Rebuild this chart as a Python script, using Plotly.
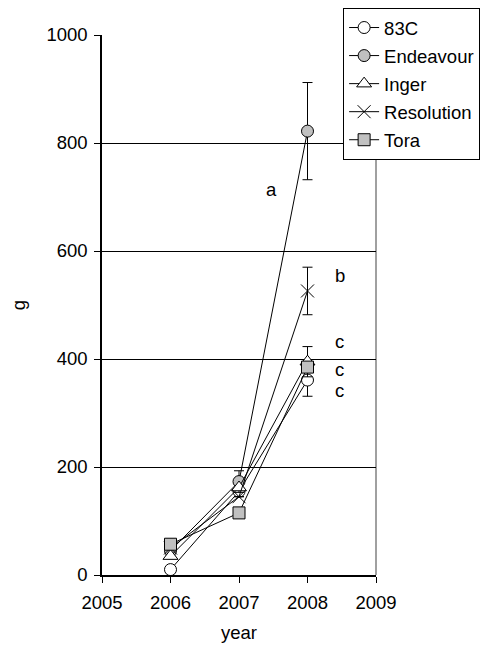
import plotly.graph_objects as go

years = [2006, 2007, 2008]
series_names = ["83C", "Endeavour", "Inger", "Resolution", "Tora"]
v_83c = [10, 155, 361]
v_endeavour = [45, 173, 822]
v_inger = [35, 162, 395]
v_resolution = [50, 145, 526]
v_tora = [57, 115, 385]
err_83c = [0, 0, 30]
err_endeavour = [0, 20, 90]
err_inger = [0, 0, 28]
err_resolution = [0, 0, 44]
err_tora = [0, 0, 0]
letters = ["a", "b", "c", "c", "c"]
letter_x = [2007.47, 2008.47, 2008.47, 2008.47, 2008.47]
letter_y = [713, 554, 433, 380, 341]
x_ticks = [2005, 2006, 2007, 2008, 2009]
y_ticks = [0, 200, 400, 600, 800, 1000]

FONT = "Liberation Sans, Arial, sans-serif"
FS = 18.5
values = [v_83c, v_endeavour, v_inger, v_resolution, v_tora]
errs = [err_83c, err_endeavour, err_inger, err_resolution, err_tora]
styles = [
    dict(symbol="circle", color="white", size=12),
    dict(symbol="circle", color="#c0c0c0", size=12),
    dict(symbol="triangle-up", color="white", size=13),
    dict(symbol="x-thin-open", color="black", size=13),
    dict(symbol="square", color="#c0c0c0", size=12),
]

fig = go.Figure()
for name, vals, er, st in zip(series_names, values, errs, styles):
    fig.add_trace(go.Scatter(
        x=years, y=vals, name=name, mode="lines+markers", legendgroup=name,
        line=dict(color="black", width=1),
        marker=dict(symbol=st["symbol"], size=st["size"], color=st["color"],
                    line=dict(color="black", width=1)),
        error_y=dict(type="data", array=er, visible=True, color="black",
                     thickness=1, width=5),
    ))

for t, lx, ly in zip(letters, letter_x, letter_y):
    fig.add_annotation(x=lx, y=ly, text=t, showarrow=False,
                       font=dict(family=FONT, size=FS, color="black"))

fig.add_shape(type="line", xref="paper", yref="paper", x0=1, x1=1, y0=0, y1=1,
              line=dict(color="#808080", width=1.5), layer="below")

fig.update_layout(
    width=483, height=641,
    margin=dict(l=94, r=115, t=27, b=74, autoexpand=False),
    paper_bgcolor="white", plot_bgcolor="white",
    font=dict(family=FONT, size=FS, color="black"),
    showlegend=True,
    legend=dict(x=0.88, y=1.05, xanchor="left", yanchor="top",
                bordercolor="black", borderwidth=1, bgcolor="white",
                font=dict(family=FONT, size=FS), tracegroupgap=1,
                itemwidth=30),
    xaxis=dict(range=[2005, 2009], tickvals=x_ticks, ticks="outside",
               ticklen=6, tickcolor="black", showline=True, linecolor="black",
               linewidth=1.5, showgrid=False, zeroline=False, automargin=False,
               ticklabelstandoff=4,
               title=dict(text="year", standoff=14, font=dict(size=FS))),
    yaxis=dict(range=[0, 1000], tickvals=y_ticks, ticks="outside",
               ticklen=6, tickcolor="black", showline=True, linecolor="black",
               linewidth=1.5, showgrid=True, gridcolor="black", gridwidth=1,
               zeroline=False, automargin=False, ticklabelstandoff=3,
               title=dict(text="g", standoff=18, font=dict(size=FS))),
)

fig.write_html("out.html")
